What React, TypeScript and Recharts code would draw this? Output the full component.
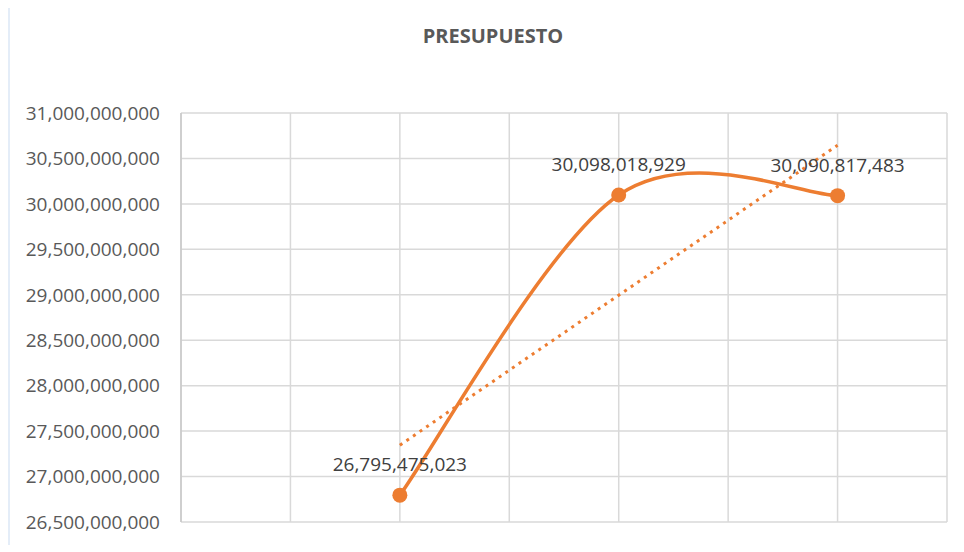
import React from 'react';
import {
  ComposedChart, Line, XAxis, YAxis, CartesianGrid, LabelList,
} from 'recharts';

// category slots on the x axis (points sit on slots 2, 4 and 6)
const xSlots = [0, 1, 2, 3, 4, 5, 6, 7];
const pointX = [2, 4, 6];
const presupuesto = [26795475023, 30098018929, 30090817483];

// linear trendline at the first and last point
const trendX = [2, 6];
const trendY = [27345000000, 30645000000];

const yTicks = [
  26500000000, 27000000000, 27500000000, 28000000000, 28500000000,
  29000000000, 29500000000, 30000000000, 30500000000, 31000000000,
];

const ORANGE = '#ED7D31';
const FONT = '"Open Sans", sans-serif';

const fmt = (v: number) => v.toLocaleString('en-US');

const rows = pointX.map((x, i) => {
  const t = trendX.indexOf(x);
  return { x, value: presupuesto[i], trend: t >= 0 ? trendY[t] : null };
});

// spreadsheet-style smoothed line: bezier segments with 1/6 neighbour tangents
const smoothCurve = (context: any) => {
  let pts: number[][] = [];
  return {
    areaStart() {},
    areaEnd() {},
    lineStart() { pts = []; },
    point(x: number, y: number) { pts.push([+x, +y]); },
    lineEnd() {
      if (!pts.length) return;
      context.moveTo(pts[0][0], pts[0][1]);
      for (let i = 0; i < pts.length - 1; i++) {
        const p0 = pts[i - 1] || pts[i];
        const p1 = pts[i];
        const p2 = pts[i + 1];
        const p3 = pts[i + 2] || p2;
        context.bezierCurveTo(
          p1[0] + (p2[0] - p0[0]) / 6, p1[1] + (p2[1] - p0[1]) / 6,
          p2[0] - (p3[0] - p1[0]) / 6, p2[1] - (p3[1] - p1[1]) / 6,
          p2[0], p2[1],
        );
      }
    },
  };
};

// x axis has no labels, but its ticks still feed the vertical gridlines
const NoTick = () => <g />;

const App: React.FC = () => {
  return (
    <div
      style={{
        position: 'relative',
        width: 950,
        height: 543,
        marginTop: -7,
        borderLeft: '2px solid #e4edf8',
        borderTop: '1px solid #f3f3f3',
        fontFamily: FONT,
      }}
    >
      <div
        style={{
          position: 'absolute',
          top: 20,
          left: 0,
          width: 966,
          textAlign: 'center',
          fontSize: 20,
          lineHeight: '27px',
          fontWeight: 700,
          color: '#595959',
        }}
      >
        PRESUPUESTO
      </div>
      <ComposedChart
        width={950}
        height={537}
        data={rows}
        margin={{ top: 111, right: 13, bottom: 17, left: 0 }}
      >
        <CartesianGrid stroke="#d9d9d9" strokeWidth={1.5} />
        <XAxis
          type="number"
          dataKey="x"
          domain={[0, 7]}
          ticks={xSlots}
          interval={0}
          tick={<NoTick />}
          tickLine={false}
          height={0}
          axisLine={{ stroke: '#c8c8c8', strokeWidth: 1.5 }}
        />
        <YAxis
          domain={[26500000000, 31000000000]}
          ticks={yTicks}
          width={171}
          tickSize={0}
          tickMargin={21}
          tickLine={false}
          axisLine={{ stroke: '#c8c8c8', strokeWidth: 1.5 }}
          tickFormatter={fmt}
          tick={{ fill: '#595959', fontSize: 19, fontFamily: FONT }}
          allowDataOverflow
        />
        <Line
          dataKey="trend"
          type="linear"
          stroke={ORANGE}
          strokeWidth={3}
          strokeDasharray="3 5"
          dot={false}
          connectNulls
          isAnimationActive={false}
        />
        <Line
          dataKey="value"
          type={smoothCurve as any}
          stroke={ORANGE}
          strokeWidth={3.5}
          dot={{ r: 7.5, fill: ORANGE, stroke: ORANGE, strokeWidth: 0 }}
          isAnimationActive={false}
        >
          <LabelList
            dataKey="value"
            position="top"
            offset={24}
            formatter={(v: any) => fmt(Number(v))}
            style={{ fill: '#404040', fontSize: 19, fontFamily: FONT }}
          />
        </Line>
      </ComposedChart>
    </div>
  );
};

export default App;
